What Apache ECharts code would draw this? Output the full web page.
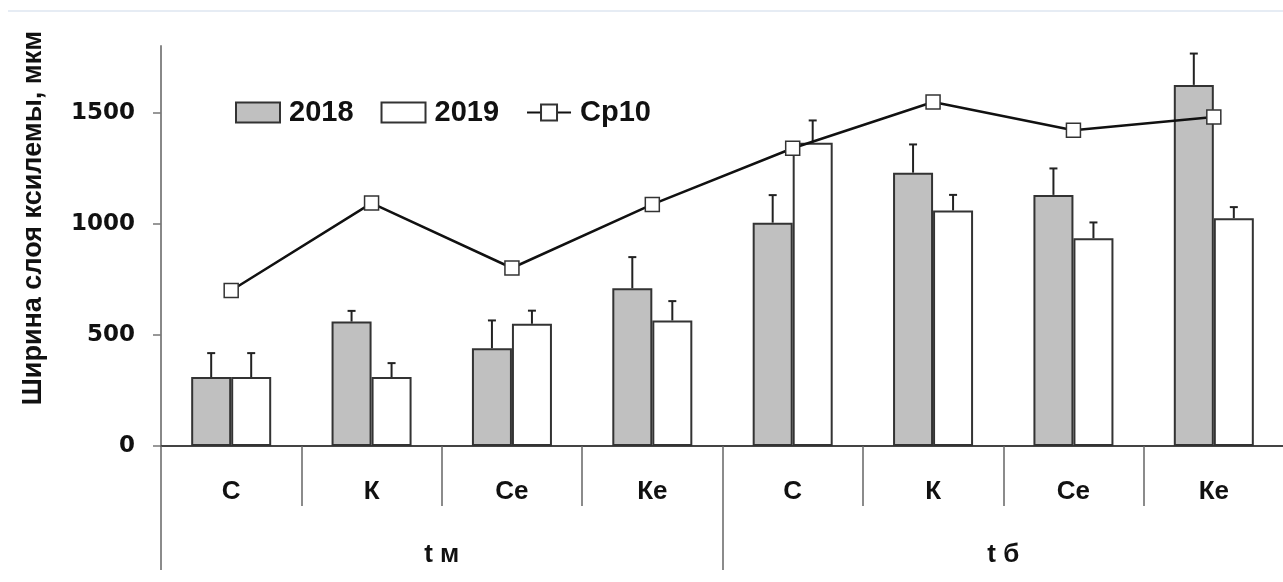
<!DOCTYPE html>
<html>
<head>
<meta charset="utf-8">
<script src="https://cdn.jsdelivr.net/npm/echarts@6/dist/echarts.min.js"></script>
<style>
html,body{margin:0;padding:0;background:#fff;}
#c{width:1283px;height:582px;}
</style>
</head>
<body>
<div id="c"></div>
<script>
const categories = ['С', 'К', 'Се', 'Ке', 'С', 'К', 'Се', 'Ке'];
const groups = ['t м', 't б'];
const yTicks = [0, 500, 1000, 1500];
const v2018 = [310, 560, 440, 710, 1005, 1230, 1130, 1625];
const err2018 = [108, 48, 125, 140, 124, 127, 119, 141];
const v2019 = [310, 310, 550, 565, 1365, 1060, 935, 1025];
const err2019 = [108, 63, 59, 87, 100, 70, 71, 50];
const cp10 = [700, 1093, 801, 1087, 1340, 1548, 1421, 1481];

const BAR_FRAC = 0.285;

function errData(vals, errs) {
  return vals.map((v, i) => [i, v, errs[i]]);
}
function errRender(side) {
  return function (params, api) {
    const i = api.value(0), v = api.value(1), e = api.value(2);
    const base = api.coord([i, v]);
    const top = api.coord([i, v + e]);
    const catW = api.size([1, 0])[0];
    const x = base[0] + side * catW * BAR_FRAC / 2;
    const st = { stroke: '#222', lineWidth: 2 };
    return {
      type: 'group',
      children: [
        { type: 'line', shape: { x1: x, y1: base[1], x2: x, y2: top[1] }, style: st },
        { type: 'line', shape: { x1: x - 4, y1: top[1], x2: x + 4, y2: top[1] }, style: st }
      ]
    };
  };
}

const chart = echarts.init(document.getElementById('c'), null, { renderer: 'canvas' });
const boldFont = { fontFamily: 'Liberation Sans, Arial, sans-serif', fontWeight: 'bold', color: '#111' };

chart.setOption({
  animation: false,
  backgroundColor: '#ffffff',
  grid: { left: 161, top: 46, width: 1123, height: 400, containLabel: false, outerBoundsMode: 'none' },
  legend: {
    left: 235, top: 98, padding: 0,
    itemWidth: 44, itemHeight: 20, itemGap: 27,
    data: [
      { name: '2018', icon: 'rect' },
      { name: '2019', icon: 'rect' },
      { name: 'Ср10' }
    ],
    textStyle: Object.assign({ fontSize: 29, lineHeight: 29, padding: [0, 0, 0, 4] }, boldFont)
  },
  xAxis: [
    {
      type: 'category', data: categories, position: 'bottom',
      axisLine: { show: true, lineStyle: { color: '#444', width: 2 } },
      axisTick: { show: true, interval: 0, length: 60, alignWithLabel: false, lineStyle: { color: '#666', width: 1.5 } },
      axisLabel: Object.assign({ interval: 0, margin: 33, fontSize: 26, lineHeight: 26 }, boldFont),
      splitLine: { show: false }
    },
    {
      type: 'category', data: groups, position: 'bottom',
      axisLine: { show: false },
      axisTick: { show: true, interval: 0, length: 124, alignWithLabel: false, lineStyle: { color: '#666', width: 1.5 } },
      axisLabel: Object.assign({ interval: 0, margin: 96, fontSize: 26, lineHeight: 26 }, boldFont),
      splitLine: { show: false }
    }
  ],
  yAxis: {
    type: 'value', min: 0, max: 1800,
    axisLine: { show: true, lineStyle: { color: '#888', width: 2 } },
    axisTick: { show: true, length: 8, customValues: yTicks, lineStyle: { color: '#777', width: 1.5 } },
    axisLabel: {
      customValues: yTicks, margin: 26, fontSize: 23, fontWeight: 'bold',
      fontFamily: 'DejaVu Sans, sans-serif', color: '#111', padding: [5, 0, 0, 0],
      formatter: function (v) { return String(v); }
    },
    splitLine: { show: false }
  },
  graphic: [
    { type: 'line', shape: { x1: 8, y1: 11, x2: 1283, y2: 11 }, style: { stroke: '#e6ecf4', lineWidth: 2 }, silent: true },
    {
      type: 'text', x: 34, y: 218, rotation: Math.PI / 2,
      style: { text: 'Ширина слоя ксилемы, мкм', fontSize: 27, fontWeight: 'bold', fontFamily: 'Liberation Sans, Arial, sans-serif', fill: '#111', align: 'center', verticalAlign: 'middle' }
    }
  ],
  series: [
    {
      name: '2018', type: 'bar', data: v2018, barWidth: (BAR_FRAC * 100) + '%', barGap: '0%',
      itemStyle: { color: '#c0c0c0', borderColor: '#333', borderWidth: 2 }, z: 2
    },
    {
      name: '2019', type: 'bar', data: v2019, barWidth: (BAR_FRAC * 100) + '%', barGap: '0%',
      itemStyle: { color: '#ffffff', borderColor: '#333', borderWidth: 2 }, z: 2
    },
    { type: 'custom', data: errData(v2018, err2018), renderItem: errRender(-1), z: 3, silent: true },
    { type: 'custom', data: errData(v2019, err2019), renderItem: errRender(1), z: 3, silent: true },
    {
      name: 'Ср10', type: 'line', data: cp10,
      symbol: 'rect', symbolSize: 14,
      lineStyle: { color: '#111', width: 2.5 },
      itemStyle: { color: '#ffffff', borderColor: '#333', borderWidth: 1.5 },
      z: 5
    }
  ]
});
</script>
</body>
</html>
